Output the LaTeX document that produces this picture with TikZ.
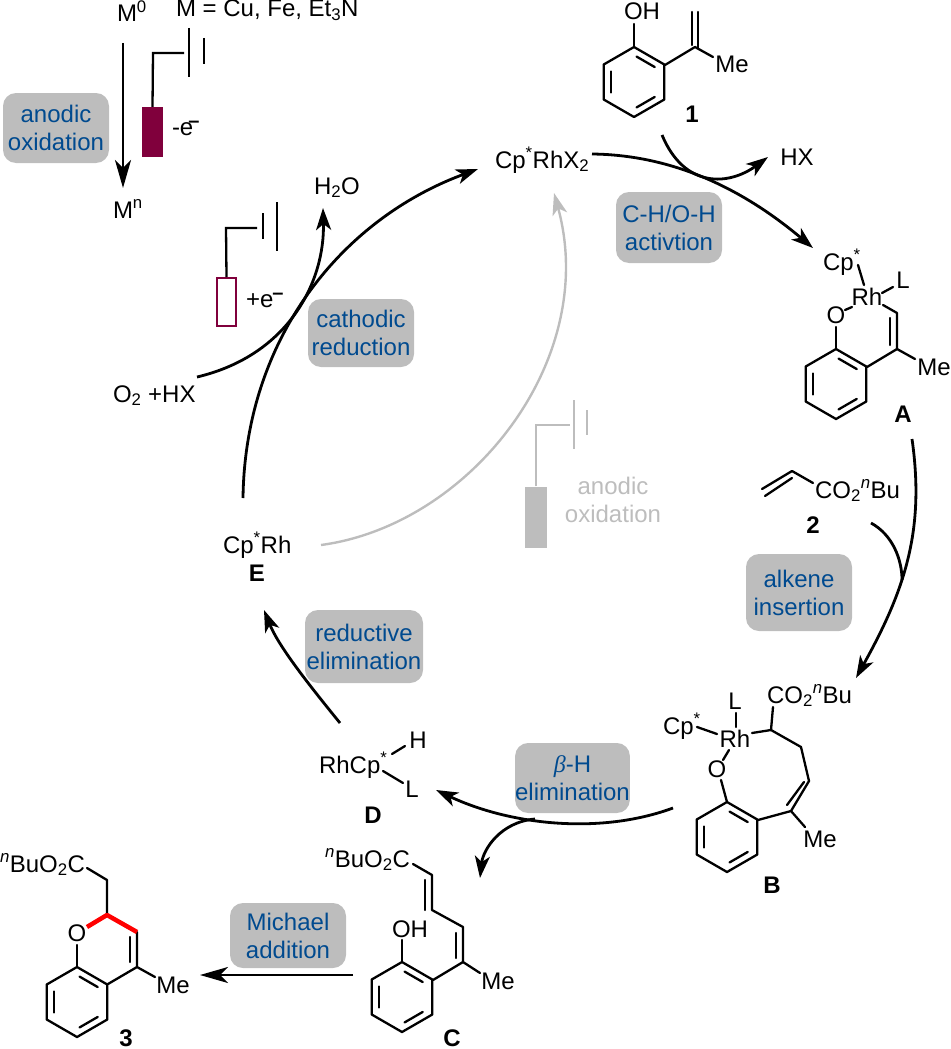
\documentclass[tikz,border=0pt]{standalone}
\usepackage{fontspec}
\setmainfont{Liberation Sans}
\newfontfamily\betafont{Liberation Serif}
\usetikzlibrary{arrows.meta}
\definecolor{boxgray}{HTML}{BDBDBD}
\definecolor{stepblue}{HTML}{004A8F}
\definecolor{elecred}{HTML}{80003C}
\tikzset{
  txt/.style={inner sep=0pt,outer sep=0pt,anchor=base,font=\fontsize{24}{28}\selectfont},
  txtw/.style={txt,anchor=base west},
  lab/.style={txt,font=\fontsize{24}{28}\selectfont\bfseries},
  bond/.style={line width=2.3pt,line cap=round,line join=round},
  rxn/.style={line width=2.8pt,-{Stealth[length=22pt,width=15pt,inset=6pt]}},
  rxnstraight/.style={line width=2.8pt,-{Stealth[length=28pt,width=16pt,inset=8pt]}},
  rxnplain/.style={line width=2.8pt},
  grayrxn/.style={line width=2.4pt,draw=boxgray,-{Stealth[length=22pt,width=15pt,inset=6pt]}},
  stepbox/.style={fill=boxgray,rounded corners=13pt,inner sep=0pt,align=center,text=stepblue,
     font=\fontsize{24}{28}\selectfont},
  wire/.style={line width=2.3pt},
}
\newcommand{\benz}[2]{%
  \begin{scope}[shift={(#1,#2)}]
    \draw[bond] (0,-35)--(30.3,-17.5)--(30.3,17.5)--(0,35)--(-30.3,17.5)--(-30.3,-17.5)--cycle;
    \foreach \ang in {0,120,240}{
      \draw[bond,rotate=\ang] (-23.3,-10.5)--(-23.3,10.5);
    }
  \end{scope}}
\newcommand{\sx}[1]{\textsubscript{#1}}
\newcommand{\cps}{Cp\textsuperscript{*}}
\newcommand{\nbuR}{CO\sx{2}\textsuperscript{\textit{n}}Bu}
\newcommand{\nbuL}{\textsuperscript{\textit{n}}BuO\sx{2}C}
\newcommand{\elbar}{\raisebox{8pt}{\fontsize{20}{20}\selectfont\bfseries –}}
\begin{document}
\begin{tikzpicture}[x=1pt,y=-1pt]
\useasboundingbox (0,0) rectangle (950,1049);

% step boxes
\node[stepbox,minimum width=106pt,minimum height=70pt] (bAn) at (56,128) {anodic\\oxidation};
\node[stepbox,minimum width=106pt,minimum height=68pt] (bCa) at (361,333) {cathodic\\reduction};
\node[stepbox,minimum width=106pt,minimum height=71pt] (bCH) at (669,227.5) {C-H/O-H\\activtion};
\node[stepbox,minimum width=106pt,minimum height=77pt] (bAl) at (799,592.5) {alkene\\insertion};
\node[stepbox,minimum width=118pt,minimum height=73pt] (bRe) at (364,646.5) {reductive\\elimination};
\node[stepbox,minimum width=111pt,minimum height=70pt] (bBe) at (572.5,778) {{\betafont\itshape β}-H\\elimination};
\node[stepbox,minimum width=116pt,minimum height=65pt] (bMi) at (288,935.5) {Michael\\addition};
\node[txt,anchor=center,align=center,text=boxgray] (gAn) at (613,499.5) {anodic\\oxidation};

% molecule 1
\benz{634}{82}
\draw[bond] (634,47)--(634,24);
\draw[bond] (665,65)--(695,47)--(713,57);
\draw[bond] (692,12)--(692,45);
\draw[bond] (698,12)--(698,48);
\node[txt] (ohA) at (642,20) {OH};
\node[txt] (meA) at (732,73) {Me};
\node[lab] (n1) at (692,122.5) {1};
\node[txt] (hx) at (797,165) {HX};

% intermediate A
\benz{836}{384}
\draw[bond] (836,349)--(836,327);
\draw[bond] (845,310)--(852,307);
\draw[bond] (858,265)--(864,285);
\draw[bond] (882,293)--(893,287);
\draw[bond] (883,305)--(897,313)--(897,349)--(867,367);
\draw[bond] (890,318)--(890,345);
\draw[bond] (897,349)--(915,359);
\node[txtw] (cpA) at (823,270) {\cps};
\node[txt] (rhA) at (867,305) {Rh};
\node[txt] (lA) at (903,288) {L};
\node[txt] (oA) at (836,323) {O};
\node[txt] (meB) at (934,375) {Me};
\node[lab] (nA) at (903,422) {A};

% acrylate 2
\draw[bond] (762,489)--(792,471)--(813,483);
\draw[bond] (765,496)--(792,478);
\node[txtw] (est2) at (815,498) {\nbuR};
\node[lab] (n2) at (813,533) {2};

% intermediate B
\benz{727}{837}
\draw[bond] (727,802)--(721,780);
\draw[bond] (723,760)--(729,750);
\draw[bond] (736,713)--(736,727);
\draw[bond] (697,727)--(717,734);
\draw[bond] (752,733)--(771,730)--(773,707);
\draw[bond] (771,730)--(801,747)--(809,781)--(791,811)--(758,820);
\draw[bond] (804,782)--(787,805);
\draw[bond] (791,811)--(805,827);
\node[txtw] (cpB) at (663,734) {\cps};
\node[txt] (lB) at (735,709) {L};
\node[txt] (rhB) at (735,747) {Rh};
\node[txt] (oB) at (717,777) {O};
\node[txtw] (estB) at (767,703) {\nbuR};
\node[txt] (meC) at (820,847) {Me};
\node[lab] (nB) at (772,893) {B};

% product C
\benz{402}{997}
\draw[bond] (402,962)--(402,940);
\draw[bond] (433,980)--(463,962)--(463,927)--(432,910)--(432,875)--(413,864);
\draw[bond] (456,933)--(456,958);
\draw[bond] (425,880)--(425,910);
\draw[bond] (463,962)--(480,973);
\node[txt] (ohC) at (410,937) {OH};
\node[txt] (meD) at (498,989) {Me};
\node[txtw] (estC) at (325,867) {\nbuL};
\node[lab] (nC) at (452,1046) {C};

% product 3
\benz{77}{1002}
\draw[bond] (77,967)--(77,945);
\draw[bond] (137,932)--(137,967)--(108,984);
\draw[bond] (130,937)--(130,962);
\draw[bond] (137,967)--(155,977);
\draw[bond] (107,915)--(107,880)--(87,868);
\draw[line width=4.5pt,red,line join=round] (87,927)--(107,915)--(137,932);
\node[txt] (o3) at (77,941) {O};
\node[txt] (me3) at (173,993) {Me};
\node[txtw] (est3) at (0,872) {\nbuL};
\node[lab] (n3) at (126,1046) {3};

% D and E
\node[txtw] (rhD) at (319,773) {Rh\cps};
\node[txt] (hD) at (418,748) {H};
\node[txt] (lD) at (412,797) {L};
\draw[bond] (392,754)--(405,746);
\draw[bond] (383,771)--(403,783);
\node[lab] (nD) at (373,823) {D};
\node[txtw] (rhE) at (223,553) {\cps Rh};
\node[lab] (nE) at (257,581) {E};

% catalyst and small species
\node[txtw] (cat) at (495,168) {\cps RhX\sx{2}};
\node[txtw] (o2) at (113,402) {O\sx{2} +HX};
\node[txtw] (h2o) at (314,194) {H\sx{2}O};
\node[txtw] (m0) at (117,22) {M\textsuperscript{0}};
\node[txtw] (mlist) at (176,17) {M = Cu, Fe, Et\sx{3}N};
\node[txtw] (mn) at (113,218) {M\textsuperscript{n}};
\node[txtw] (em) at (172,135) {-e\kern-5pt\elbar};
\node[txtw] (ep) at (246,307) {+e\kern-1pt\elbar};

% electrodes
\node[fill=elecred,minimum width=21pt,minimum height=50pt,inner sep=0pt] (anode) at (152.5,132) {};
\draw[wire] (anode.north)--(153,53)--(184,53);
\draw[wire] (189,28)--(189,77);
\draw[wire] (204,38)--(204,64);
\node[draw=elecred,fill=white,line width=2pt,minimum width=19pt,minimum height=48pt,inner sep=0pt] (cathode) at (226.5,302) {};
\draw[wire] (cathode.north)--(226,228)--(257,228);
\draw[wire] (263,213)--(263,239);
\draw[wire] (277,202)--(277,251);
\node[fill=boxgray,minimum width=22pt,minimum height=61pt,inner sep=0pt] (ganode) at (536,517) {};
\draw[wire,boxgray] (ganode.north)--(536,425)--(570,425);
\draw[wire,boxgray] (574,400)--(574,449);
\draw[wire,boxgray] (587,410)--(587,435);

% connector end points
\coordinate (m0e) at (123,43);
\coordinate (mne) at (123,188);
\coordinate (catR) at (592,154);
\coordinate (aIn) at (813,248);
\coordinate (oneOut) at (662,135);
\coordinate (hxIn) at (768,157);
\coordinate (aOut) at (912,439);
\coordinate (bIn) at (856,678);
\coordinate (twoOut) at (871,523);
\coordinate (join2) at (902,580);
\coordinate (bOut) at (673,808);
\coordinate (dIn) at (436,790);
\coordinate (join3) at (535,819);
\coordinate (cIn) at (480,878);
\coordinate (cOut) at (353,975);
\coordinate (threeIn) at (200,975);
\coordinate (dOut) at (340,723);
\coordinate (eIn) at (264,610);
\coordinate (eOut) at (243,498);
\coordinate (catL) at (478,169);
\coordinate (o2Out) at (197,377);
\coordinate (h2oIn) at (323,208);
\coordinate (eOutG) at (321,545);
\coordinate (catD) at (554,193);

% connectors
\draw[rxnstraight] (m0e)--(mne);
\draw[rxn] (catR) .. controls (680,155) and (750,195) .. (aIn);
\draw[rxn] (oneOut) .. controls (685,190) and (730,185) .. (hxIn);
\draw[rxn] (aOut) .. controls (925,530) and (905,590) .. (bIn);
\draw[rxnplain] (twoOut) .. controls (893,535) and (902,560) .. (join2);
\draw[rxn] (bOut) .. controls (600,835) and (510,825) .. (dIn);
\draw[rxn] (join3) .. controls (500,822) and (483,850) .. (cIn);
\draw[rxnstraight] (cOut)--(threeIn);
\draw[rxn] (dOut) .. controls (305,680) and (278,645) .. (eIn);
\draw[rxn] (eOut) .. controls (245,340) and (340,220) .. (catL);
\draw[rxn] (o2Out) .. controls (290,355) and (325,280) .. (h2oIn);
\draw[grayrxn] (eOutG) .. controls (470,525) and (600,360) .. (catD);
\end{tikzpicture}
\end{document}
